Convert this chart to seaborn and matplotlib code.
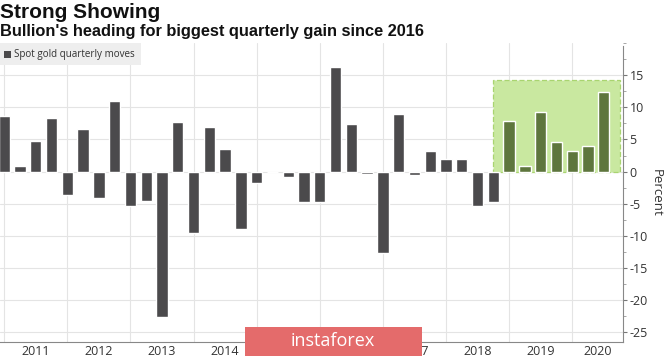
import matplotlib.pyplot as plt
import matplotlib.patches as mpatches
import pandas as pd
import seaborn as sns
from matplotlib.ticker import MultipleLocator, FixedLocator

# quarterly spot gold moves, 2010 Q4 .. 2020 Q2 (percent)
quarters = [f"{y} Q{q}" for y in range(2010, 2021) for q in range(1, 5)][3:42]
moves = [8.7, 0.8, 4.8, 8.3, -3.6, 6.7, -4.1, 11.0, -5.3, -4.5,
         -22.6, 7.7, -9.5, 6.9, 3.5, -8.9, -1.8, -0.1, -0.9, -4.8,
         -4.8, 16.3, 7.4, -0.4, -12.7, 9.0, -0.5, 3.2, 1.9, 1.9,
         -5.3, -4.8, 7.9, 0.9, 9.2, 4.6, 3.2, 4.0, 12.4]
highlight_from = "2018 Q4"
years = [2011, 2012, 2013, 2014, 2015, 2016, 2017, 2018, 2019, 2020]

df = pd.DataFrame({"quarter": quarters, "move": moves})
start = quarters.index(highlight_from)
df["group"] = ["recent" if i >= start else "past" for i in range(len(df))]

sns.set_style("white")
plt.rcParams["axes.unicode_minus"] = False
plt.rcParams["font.family"] = ["Open Sans", "DejaVu Sans"]

fig = plt.figure(figsize=(6.65, 3.58), dpi=100)
ax = fig.add_axes([0, 16 / 358, 622.7 / 665, 299 / 358])

# highlighted recent run
ax.add_patch(mpatches.Rectangle((start - 1, 0), 39.04 - (start - 1), 14.2,
                                facecolor="#c9e8a0", edgecolor="#a9d470",
                                linestyle=(0, (4, 2)), linewidth=0.9, zorder=1))

sns.barplot(data=df, x="quarter", y="move", hue="group",
            palette={"past": "#4b4a4c", "recent": "#5f7f34"},
            dodge=False, width=0.72, legend=False, ax=ax, zorder=2)

ax.set_xlim(-0.27, 39.2)
ax.set_ylim(-26.5, 20)

# x axis: year separators and year labels
bounds = [4 * (y - 2011) for y in years]
centers = [b + 2 for b in bounds[:-1]] + [(bounds[-1] + 39.2) / 2]
ax.xaxis.set_major_locator(FixedLocator(centers))
ax.set_xticklabels([str(y) for y in years])
ax.xaxis.set_minor_locator(FixedLocator(bounds))
ax.tick_params(axis="x", which="major", length=0, labelsize=9,
               labelcolor="#333333", pad=2)
ax.tick_params(axis="x", which="minor", length=14, width=0.8,
               color="#999999", direction="out")

# y axis on the right
ax.yaxis.tick_right()
ax.yaxis.set_label_position("right")
ax.yaxis.set_major_locator(MultipleLocator(5))
ax.yaxis.set_minor_locator(MultipleLocator(2.5))
ax.set_yticks([-25, -20, -15, -10, -5, 0, 5, 10, 15])
ax.tick_params(axis="y", which="major", length=3, width=0.8, color="#777777",
               labelsize=9, labelcolor="#333333", pad=2, right=True, left=False)
ax.tick_params(axis="y", which="minor", length=2, width=0.6, color="#999999",
               right=True, left=False)
ax.set_ylabel("Percent", rotation=270, fontsize=9.5, color="#333333", labelpad=11)
ax.set_xlabel("")

ax.grid(axis="y", which="major", color="#e4e4e4", linewidth=0.8)
ax.grid(axis="x", which="minor", color="#e4e4e4", linewidth=0.8)
ax.set_axisbelow(True)

for side in ["top", "left"]:
    ax.spines[side].set_visible(False)
ax.spines["bottom"].set_color("#888888")
ax.spines["right"].set_color("#888888")
ax.spines["right"].set_bounds(-26.5, 19.5)

# titles
fig.text(0.0, 1 - 18 / 358, "Strong Showing", fontsize=15, fontweight="bold",
         family="Liberation Sans", color="#111111", va="baseline")
fig.text(0.0, 1 - 36 / 358, "Bullion's heading for biggest quarterly gain since 2016",
         fontsize=11.8, fontweight="bold", family="Liberation Sans",
         color="#111111", va="baseline")

# legend box
fig.patches.append(mpatches.Rectangle((0, 1 - 65 / 358), 141 / 665, 22 / 358,
                                      transform=fig.transFigure,
                                      facecolor="#eeeeee", edgecolor="none"))
fig.patches.append(mpatches.Rectangle((4 / 665, 1 - 58 / 358), 7 / 665, 7 / 358,
                                      transform=fig.transFigure,
                                      facecolor="#4b4a4c", edgecolor="none"))
fig.text(14 / 665, 1 - 54 / 358, "Spot gold quarterly moves", fontsize=7.1,
         color="#333333", va="center")

# watermark
fig.patches.append(mpatches.Rectangle((245 / 665, 1 - 356 / 358), 177 / 665, 29 / 358,
                                      transform=fig.transFigure,
                                      facecolor="#e46b6b", edgecolor="none", zorder=5))
fig.text(333 / 665, 1 - 341 / 358, "instaforex", fontsize=13, color="white",
         ha="center", va="center", zorder=6)

fig.savefig("out.png", dpi=100)
